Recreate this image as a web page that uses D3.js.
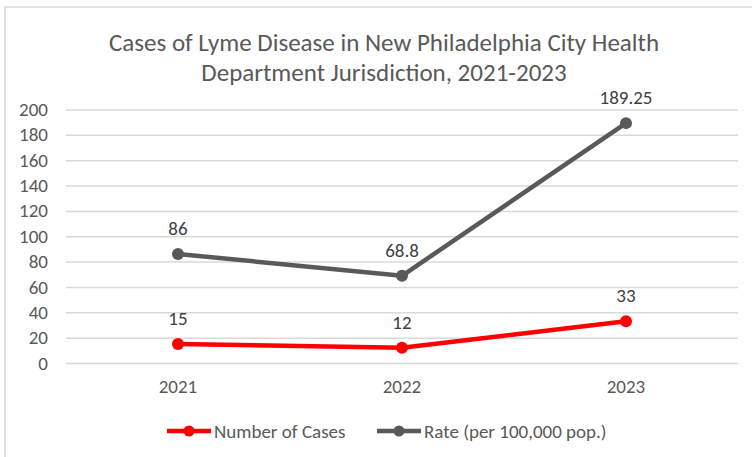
<!DOCTYPE html>
<html>
<head>
<meta charset="utf-8">
<script src="https://cdn.jsdelivr.net/npm/d3@7"></script>
<style>
  html, body { margin: 0; padding: 0; background: #fff; }
  svg { display: block; font-family: Carlito, Lato, "Open Sans", sans-serif; }
</style>
</head>
<body>
<svg id="chart" width="752" height="457"></svg>
<script>
// Reported Lyme disease figures by year
const years = ["2021", "2022", "2023"];
const numberOfCases = [15, 12, 33];
const ratePer100k = [86, 68.8, 189.25];
const yTicks = [0, 20, 40, 60, 80, 100, 120, 140, 160, 180, 200];
const seriesNames = ["Number of Cases", "Rate (per 100,000 pop.)"];
const titleLines = ["Cases of Lyme Disease in New Philadelphia City Health",
                    "Department Jurisdiction, 2021-2023"];

const FONT = "Carlito, Lato, 'Open Sans', sans-serif";
const LABEL_SIZE = 19;

const svg = d3.select("#chart");
const W = 752, H = 457;

// outer chart-area frame
svg.append("rect")
  .attr("x", 5).attr("y", 7).attr("width", W + 10).attr("height", H + 10)
  .attr("fill", "#fff").attr("stroke", "#d9d9d9").attr("stroke-width", 1.5);

const plot = { left: 66, right: 738, top: 109.5, bottom: 363 };

const x = d3.scaleBand().domain(years).range([plot.left, plot.right]);
const y = d3.scaleLinear().domain([0, 200]).range([plot.bottom, plot.top]);

// title
svg.append("text")
  .attr("x", 384).attr("y", 51)
  .attr("text-anchor", "middle")
  .attr("font-size", 25).attr("fill", "#595959")
  .selectAll("tspan").data(titleLines).join("tspan")
  .attr("x", 384).attr("dy", (d, i) => i === 0 ? 0 : 30)
  .text(d => d);

// gridlines + y axis labels
const yAxis = d3.axisLeft(y).tickValues(yTicks).tickSize(-(plot.right - plot.left)).tickPadding(18);
const gy = svg.append("g").attr("transform", `translate(${plot.left},0)`).call(yAxis);
gy.select(".domain").remove();
gy.selectAll(".tick line").attr("stroke", "#d9d9d9").attr("stroke-width", 1.5);
gy.selectAll(".tick text").attr("fill", "#595959")
  .style("font-size", LABEL_SIZE + "px").style("font-family", FONT);

// x axis labels
const xAxis = d3.axisBottom(x).tickSize(0).tickPadding(16.5);
const gx = svg.append("g").attr("transform", `translate(0,${plot.bottom})`).call(xAxis);
gx.select(".domain").remove();
gx.selectAll(".tick text").attr("fill", "#595959")
  .style("font-size", LABEL_SIZE + "px").style("font-family", FONT);

const cx = d => x(d) + x.bandwidth() / 2;

const series = [
  { name: seriesNames[0], values: numberOfCases, color: "#ff0000" },
  { name: seriesNames[1], values: ratePer100k, color: "#595959" }
];

const line = d3.line().x(d => cx(d.year)).y(d => y(d.value));

series.forEach(s => {
  const pts = years.map((yr, i) => ({ year: yr, value: s.values[i] }));
  const g = svg.append("g");
  g.append("path").datum(pts)
    .attr("d", line).attr("fill", "none")
    .attr("stroke", s.color).attr("stroke-width", 4.5)
    .attr("stroke-linejoin", "round").attr("stroke-linecap", "round");
  g.selectAll("circle").data(pts).join("circle")
    .attr("cx", d => cx(d.year)).attr("cy", d => y(d.value))
    .attr("r", 6).attr("fill", s.color);
  g.selectAll("text").data(pts).join("text")
    .attr("x", d => cx(d.year)).attr("y", d => y(d.value) - 19)
    .attr("text-anchor", "middle").attr("font-size", LABEL_SIZE).attr("fill", "#404040")
    .text(d => d3.format("~")(d.value));
});

// legend
const legendItems = [
  { name: seriesNames[0], color: "#ff0000", x0: 167 },
  { name: seriesNames[1], color: "#595959", x0: 377 }
];
const lg = svg.append("g");
legendItems.forEach(it => {
  lg.append("line").attr("x1", it.x0).attr("x2", it.x0 + 44)
    .attr("y1", 431).attr("y2", 431)
    .attr("stroke", it.color).attr("stroke-width", 4.5);
  lg.append("circle").attr("cx", it.x0 + 22).attr("cy", 431).attr("r", 5.5).attr("fill", it.color);
  lg.append("text").attr("x", it.x0 + 47).attr("y", 438)
    .attr("font-size", LABEL_SIZE).attr("fill", "#595959").text(it.name);
});
</script>
</body>
</html>
